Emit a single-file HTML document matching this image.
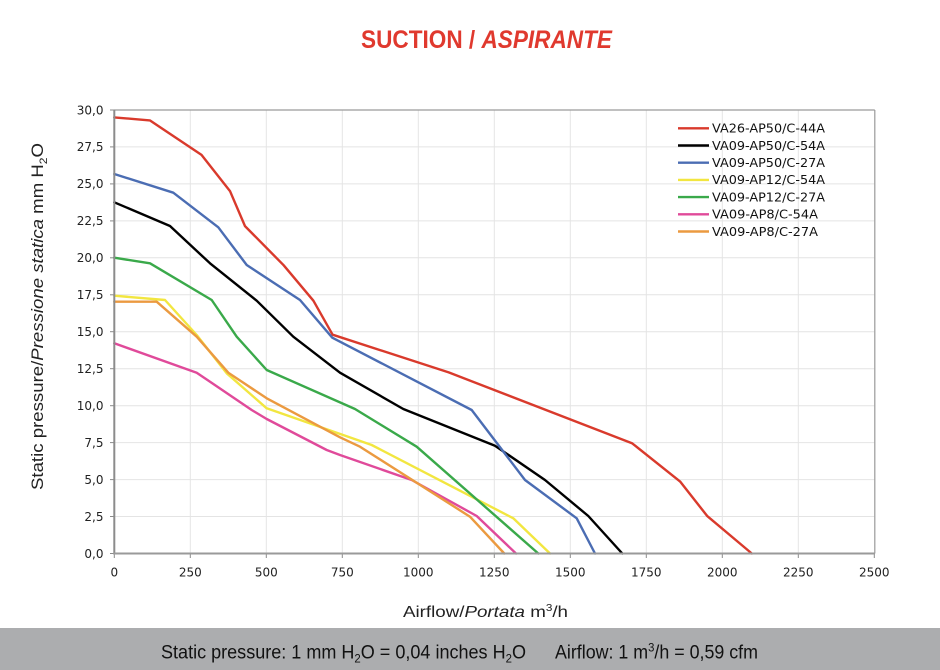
<!DOCTYPE html>
<html>
<head>
<meta charset="utf-8">
<style>
html,body{margin:0;padding:0;background:#fff;}
svg{display:block;}
.tk{font-family:"DejaVu Sans","Liberation Sans",sans-serif;font-size:12px;fill:#222;}
.lg{font-family:"DejaVu Sans","Liberation Sans",sans-serif;font-size:12px;fill:#111;}
.ax{font-family:"Liberation Sans",sans-serif;fill:#222;}
</style>
</head>
<body>
<svg width="940" height="670" viewBox="0 0 940 670" xmlns="http://www.w3.org/2000/svg">
  <rect width="940" height="670" fill="#fff"/>
  <!-- Title -->
  <text x="361" y="48" font-family="'Liberation Sans',sans-serif" font-weight="bold" font-size="25" fill="#e0392e" textLength="251" lengthAdjust="spacingAndGlyphs">SUCTION / <tspan font-style="italic">ASPIRANTE</tspan></text>

  <!-- grid -->
  <g stroke="#e4e4e4" stroke-width="1">
    <line x1="190.3" y1="110" x2="190.3" y2="553.5"/>
    <line x1="266.3" y1="110" x2="266.3" y2="553.5"/>
    <line x1="342.3" y1="110" x2="342.3" y2="553.5"/>
    <line x1="418.3" y1="110" x2="418.3" y2="553.5"/>
    <line x1="494.3" y1="110" x2="494.3" y2="553.5"/>
    <line x1="570.3" y1="110" x2="570.3" y2="553.5"/>
    <line x1="646.3" y1="110" x2="646.3" y2="553.5"/>
    <line x1="722.3" y1="110" x2="722.3" y2="553.5"/>
    <line x1="798.3" y1="110" x2="798.3" y2="553.5"/>
    <line x1="114" y1="516.5" x2="874.3" y2="516.5"/>
    <line x1="114" y1="479.6" x2="874.3" y2="479.6"/>
    <line x1="114" y1="442.6" x2="874.3" y2="442.6"/>
    <line x1="114" y1="405.7" x2="874.3" y2="405.7"/>
    <line x1="114" y1="368.7" x2="874.3" y2="368.7"/>
    <line x1="114" y1="331.7" x2="874.3" y2="331.7"/>
    <line x1="114" y1="294.8" x2="874.3" y2="294.8"/>
    <line x1="114" y1="257.8" x2="874.3" y2="257.8"/>
    <line x1="114" y1="220.9" x2="874.3" y2="220.9"/>
    <line x1="114" y1="183.9" x2="874.3" y2="183.9"/>
    <line x1="114" y1="146.9" x2="874.3" y2="146.9"/>
  </g>
  <!-- frame -->
  <line x1="114" y1="110" x2="874.8" y2="110" stroke="#9a9a9a" stroke-width="1.2"/>
  <line x1="874.8" y1="110" x2="874.8" y2="553.5" stroke="#9a9a9a" stroke-width="1.2"/>

  <!-- tick marks -->
  <g stroke="#8a8a8a" stroke-width="1">
    <line x1="110" y1="553.5" x2="114" y2="553.5"/>
    <line x1="110" y1="516.5" x2="114" y2="516.5"/>
    <line x1="110" y1="479.6" x2="114" y2="479.6"/>
    <line x1="110" y1="442.6" x2="114" y2="442.6"/>
    <line x1="110" y1="405.7" x2="114" y2="405.7"/>
    <line x1="110" y1="368.7" x2="114" y2="368.7"/>
    <line x1="110" y1="331.7" x2="114" y2="331.7"/>
    <line x1="110" y1="294.8" x2="114" y2="294.8"/>
    <line x1="110" y1="257.8" x2="114" y2="257.8"/>
    <line x1="110" y1="220.9" x2="114" y2="220.9"/>
    <line x1="110" y1="183.9" x2="114" y2="183.9"/>
    <line x1="110" y1="146.9" x2="114" y2="146.9"/>
    <line x1="110" y1="110" x2="114" y2="110"/>
    <line x1="114.3" y1="553.5" x2="114.3" y2="558"/>
    <line x1="190.3" y1="553.5" x2="190.3" y2="558"/>
    <line x1="266.3" y1="553.5" x2="266.3" y2="558"/>
    <line x1="342.3" y1="553.5" x2="342.3" y2="558"/>
    <line x1="418.3" y1="553.5" x2="418.3" y2="558"/>
    <line x1="494.3" y1="553.5" x2="494.3" y2="558"/>
    <line x1="570.3" y1="553.5" x2="570.3" y2="558"/>
    <line x1="646.3" y1="553.5" x2="646.3" y2="558"/>
    <line x1="722.3" y1="553.5" x2="722.3" y2="558"/>
    <line x1="798.3" y1="553.5" x2="798.3" y2="558"/>
    <line x1="874.3" y1="553.5" x2="874.3" y2="558"/>
  </g>

  <!-- y tick labels -->
  <g class="tk" text-anchor="end">
    <text x="103.5" y="557.8">0,0</text>
    <text x="103.5" y="520.8">2,5</text>
    <text x="103.5" y="483.9">5,0</text>
    <text x="103.5" y="446.9">7,5</text>
    <text x="103.5" y="410">10,0</text>
    <text x="103.5" y="373">12,5</text>
    <text x="103.5" y="336">15,0</text>
    <text x="103.5" y="299.1">17,5</text>
    <text x="103.5" y="262.1">20,0</text>
    <text x="103.5" y="225.2">22,5</text>
    <text x="103.5" y="188.2">25,0</text>
    <text x="103.5" y="151.2">27,5</text>
    <text x="103.5" y="114.3">30,0</text>
  </g>
  <!-- x tick labels -->
  <g class="tk" text-anchor="middle">
    <text x="114.3" y="576.5">0</text>
    <text x="190.3" y="576.5">250</text>
    <text x="266.3" y="576.5">500</text>
    <text x="342.3" y="576.5">750</text>
    <text x="418.3" y="576.5">1000</text>
    <text x="494.3" y="576.5">1250</text>
    <text x="570.3" y="576.5">1500</text>
    <text x="646.3" y="576.5">1750</text>
    <text x="722.3" y="576.5">2000</text>
    <text x="798.3" y="576.5">2250</text>
    <text x="874.3" y="576.5">2500</text>
  </g>

  <!-- series -->
  <g fill="none" stroke-width="2.4" stroke-linejoin="round" stroke-linecap="round">
    <polyline stroke="#d93a2c" points="114.3,117.4 149.9,120.4 201.5,154.9 230.1,191.3 245,226.1 283.6,265.2 313.4,300.7 332.6,334.7 448.7,372.4 632,443.2 680.3,481.7 707.1,515.9 751.8,553.5"/>
    <polyline stroke="#000000" points="114.3,202.3 170,226 210,263.3 256.7,300.7 293.3,336.7 340,372.7 403.3,409 495,445.7 545,480 588.3,516 622.3,553.5"/>
    <polyline stroke="#4b6db3" points="114.3,174 173.3,192.7 218.3,227.3 246.7,265 300,300 332.3,337.7 471.7,410 525,480 576.7,518.3 595,553.5"/>
    <polyline stroke="#f2e640" points="114.3,295.7 165,300 196.7,335 226.7,373.3 266.7,408.3 371.7,445 513.3,518.3 550,553.5"/>
    <polyline stroke="#3aa94a" points="114.3,257.7 150,263.3 211.7,300 236.7,336.7 266.7,370 355,409 416.7,446.7 538.3,553.5"/>
    <polyline stroke="#e04a9a" points="114.3,343.3 196.7,372.7 251.7,410 266.7,419 326.7,450 340,455 411.7,480 476.7,516 516,553.5"/>
    <polyline stroke="#eb9a40" points="114.3,301.7 156.7,301.7 196.7,336.7 228.3,372.7 266.7,398.3 340,437.3 360,446.7 470,516.7 504.3,553.5"/>
  </g>

  <!-- axes -->
  <line x1="114.3" y1="110" x2="114.3" y2="554.5" stroke="#8c8c8c" stroke-width="2"/>
  <line x1="113.3" y1="553.5" x2="875" y2="553.5" stroke="#9a9a9a" stroke-width="2"/>

  <!-- legend -->
  <g stroke-width="2.4">
    <line x1="678" y1="128.3" x2="709" y2="128.3" stroke="#d93a2c"/>
    <line x1="678" y1="145.5" x2="709" y2="145.5" stroke="#000000"/>
    <line x1="678" y1="162.7" x2="709" y2="162.7" stroke="#4b6db3"/>
    <line x1="678" y1="179.9" x2="709" y2="179.9" stroke="#f2e640"/>
    <line x1="678" y1="197.1" x2="709" y2="197.1" stroke="#3aa94a"/>
    <line x1="678" y1="214.3" x2="709" y2="214.3" stroke="#e04a9a"/>
    <line x1="678" y1="231.5" x2="709" y2="231.5" stroke="#eb9a40"/>
  </g>
  <g class="lg">
    <text x="712" y="132.6" textLength="113" lengthAdjust="spacingAndGlyphs">VA26-AP50/C-44A</text>
    <text x="712" y="149.8" textLength="113" lengthAdjust="spacingAndGlyphs">VA09-AP50/C-54A</text>
    <text x="712" y="167" textLength="113" lengthAdjust="spacingAndGlyphs">VA09-AP50/C-27A</text>
    <text x="712" y="184.2" textLength="113" lengthAdjust="spacingAndGlyphs">VA09-AP12/C-54A</text>
    <text x="712" y="201.4" textLength="113" lengthAdjust="spacingAndGlyphs">VA09-AP12/C-27A</text>
    <text x="712" y="218.6" textLength="106" lengthAdjust="spacingAndGlyphs">VA09-AP8/C-54A</text>
    <text x="712" y="235.8" textLength="106" lengthAdjust="spacingAndGlyphs">VA09-AP8/C-27A</text>
  </g>

  <!-- y axis title -->
  <text class="ax" transform="translate(43,490) rotate(-90)" x="0" y="0" font-size="17" textLength="347" lengthAdjust="spacingAndGlyphs">Static pressure/<tspan font-style="italic">Pressione statica</tspan>  mm  H<tspan font-size="11" dy="4">2</tspan><tspan dy="-4">O</tspan></text>

  <!-- x axis title -->
  <text class="ax" x="403" y="617" font-size="16" textLength="165" lengthAdjust="spacingAndGlyphs">Airflow/<tspan font-style="italic">Portata</tspan>  m<tspan font-size="10" dy="-6">3</tspan><tspan dy="6">/h</tspan></text>

  <!-- bottom band -->
  <rect x="0" y="628" width="940" height="42" fill="#acadaf"/>
  <text x="161" y="658.5" font-family="'Liberation Sans',sans-serif" font-size="19" fill="#111" textLength="365" lengthAdjust="spacingAndGlyphs">Static pressure: 1 mm H<tspan font-size="12" dy="4">2</tspan><tspan dy="-4">O = 0,04 inches H</tspan><tspan font-size="12" dy="4">2</tspan><tspan dy="-4">O</tspan></text>
  <text x="555" y="658.5" font-family="'Liberation Sans',sans-serif" font-size="19" fill="#111" textLength="203" lengthAdjust="spacingAndGlyphs">Airflow: 1 m<tspan font-size="12" dy="-7">3</tspan><tspan dy="7">/h = 0,59 cfm</tspan></text>
</svg>
</body>
</html>
